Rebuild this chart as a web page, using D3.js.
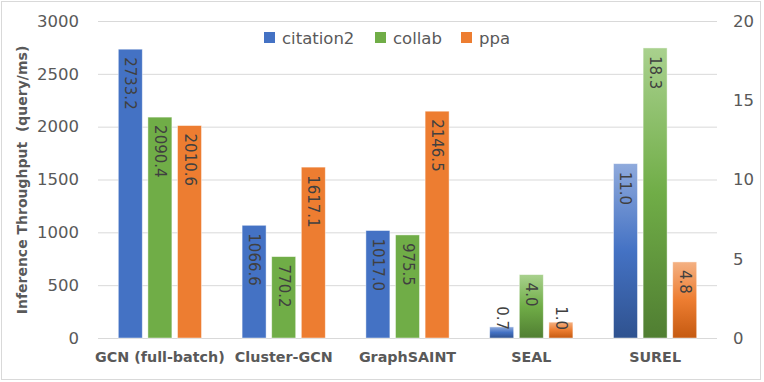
<!DOCTYPE html>
<html>
<head>
<meta charset="utf-8">
<script src="https://cdn.jsdelivr.net/npm/d3@7"></script>
<style>
  body { margin: 0; background: #fff; }
  text { font-family: "DejaVu Sans", sans-serif; }
</style>
</head>
<body>
<div id="chart"></div>
<script>
// data
var groups = ["GCN (full-batch)", "Cluster-GCN", "GraphSAINT", "SEAL", "SUREL"];
var seriesNames = ["citation2", "collab", "ppa"];
var citation2 = [2733.2, 1066.6, 1017.0, 0.7, 11.0];
var collab = [2090.4, 770.2, 975.5, 4.0, 18.3];
var ppa = [2010.6, 1617.1, 2146.5, 1.0, 4.8];
var rightAxisGroups = ["SEAL", "SUREL"];
var leftTicks = [0, 500, 1000, 1500, 2000, 2500, 3000];
var rightTicks = [0, 5, 10, 15, 20];

var svgWidth = 764, svgHeight = 382;

var colors = { citation2: "#4472C4", collab: "#70AD47", ppa: "#ED7D31" };
var gradStops = {
	citation2: ["#8FAADC", "#4472C4", "#2F528F"],
	collab: ["#A9D18E", "#70AD47", "#507E32"],
	ppa: ["#F4B183", "#ED7D31", "#C55A11"]
};

var svg = d3.select("#chart").append("svg")
	.attr("width", svgWidth).attr("height", svgHeight);

// chart border
svg.append("rect")
	.attr("x", 1.5).attr("y", 1.5)
	.attr("width", 759).attr("height", 378)
	.attr("fill", "#fff").attr("stroke", "#d9d9d9");

// gradients for secondary-axis bars
var defs = svg.append("defs");
seriesNames.forEach(function(s) {
	var g = defs.append("linearGradient").attr("id", "grad-" + s)
		.attr("x1", 0).attr("y1", 0).attr("x2", 0).attr("y2", 1);
	gradStops[s].forEach(function(c, i) {
		g.append("stop").attr("offset", (i * 50) + "%").attr("stop-color", c);
	});
});

var plotLeft = 98, plotRight = 717, plotTop = 21, plotBottom = 338;

var yLeft = d3.scaleLinear().domain([0, 3000]).range([plotBottom, plotTop]);
var yRight = d3.scaleLinear().domain([0, 20]).range([plotBottom, plotTop]);

var x0 = d3.scaleBand().domain(groups).range([plotLeft, plotRight])
	.paddingInner(0.328).paddingOuter(0.164);
var x1 = d3.scaleBand().domain(seriesNames).range([0, x0.bandwidth()])
	.paddingInner(0.19);

// gridlines
svg.append("g").selectAll("line")
	.data(leftTicks).enter().append("line")
	.attr("x1", plotLeft).attr("x2", plotRight)
	.attr("y1", d => yLeft(d) + 0.5).attr("y2", d => yLeft(d) + 0.5)
	.attr("stroke", "#d9d9d9").attr("stroke-width", 1);

// left axis
var leftAxis = svg.append("g")
	.attr("transform", `translate(79, 0)`)
	.call(d3.axisLeft(yLeft).tickValues(leftTicks).tickFormat(d3.format("d"))
		.tickSize(0).tickPadding(0));
leftAxis.select(".domain").remove();
leftAxis.selectAll("text")
	.attr("fill", "#595959").style("font-size", "16.5px");

// right axis
var rightAxis = svg.append("g")
	.attr("transform", `translate(733, 0)`)
	.call(d3.axisRight(yRight).tickValues(rightTicks).tickFormat(d3.format("d"))
		.tickSize(0).tickPadding(0));
rightAxis.select(".domain").remove();
rightAxis.selectAll("text")
	.attr("fill", "#595959").style("font-size", "16.5px");

// bottom axis labels
var bottomAxis = svg.append("g")
	.attr("transform", `translate(0, 352)`)
	.call(d3.axisBottom(x0).tickSize(0).tickPadding(0));
bottomAxis.select(".domain").remove();
bottomAxis.selectAll("text")
	.attr("fill", "#595959")
	.style("font-size", "14.3px").style("font-weight", "bold");

// y axis title
svg.append("text")
	.attr("transform", "translate(22, 180) rotate(-90)")
	.attr("text-anchor", "middle")
	.attr("dominant-baseline", "central")
	.attr("fill", "#595959")
	.style("font-size", "14px").style("font-weight", "bold")
	.style("white-space", "pre")
	.text("Inference Throughput  (query/ms)");

// bars
var rows = [];
groups.forEach(function(g, i) {
	var useRight = rightAxisGroups.indexOf(g) >= 0;
	var vals = { citation2: citation2[i], collab: collab[i], ppa: ppa[i] };
	seriesNames.forEach(function(s) {
		rows.push({ group: g, series: s, value: vals[s], right: useRight });
	});
});

function yOf(d) { return d.right ? yRight(d.value) : yLeft(d.value); }

svg.append("g").selectAll("rect")
	.data(rows).enter().append("rect")
	.attr("x", d => x0(d.group) + x1(d.series))
	.attr("y", d => yOf(d))
	.attr("width", x1.bandwidth())
	.attr("height", d => plotBottom - yOf(d))
	.attr("fill", d => d.right ? "url(#grad-" + d.series + ")" : colors[d.series])
	.attr("stroke", "#fff").attr("stroke-opacity", 0.55).attr("stroke-width", 0.8);

// value labels, rotated inside the bar top
var labels = svg.append("g").selectAll("text")
	.data(rows).enter().append("text")
	.attr("fill", "#404040")
	.style("font-size", "15px")
	.attr("dominant-baseline", "central")
	.text(d => d.value.toFixed(1));

labels.each(function(d) {
	var len = this.getComputedTextLength();
	var cx = x0(d.group) + x1(d.series) + x1.bandwidth() / 2;
	var start = Math.min(yOf(d) + 8, plotBottom - 8 - len);
	d3.select(this).attr("transform", `translate(${cx}, ${start}) rotate(90)`);
});

// legend
var legendX = [264, 375, 461];
var legend = svg.append("g").selectAll("g")
	.data(seriesNames).enter().append("g")
	.attr("transform", (d, i) => `translate(${legendX[i]}, 38)`);
legend.append("rect")
	.attr("x", 0).attr("y", -6).attr("width", 11).attr("height", 11)
	.attr("fill", d => colors[d]);
legend.append("text")
	.attr("x", 18).attr("y", 0)
	.attr("dominant-baseline", "central")
	.attr("fill", "#595959")
	.style("font-size", "16.5px")
	.text(d => d);
</script>
</body>
</html>
